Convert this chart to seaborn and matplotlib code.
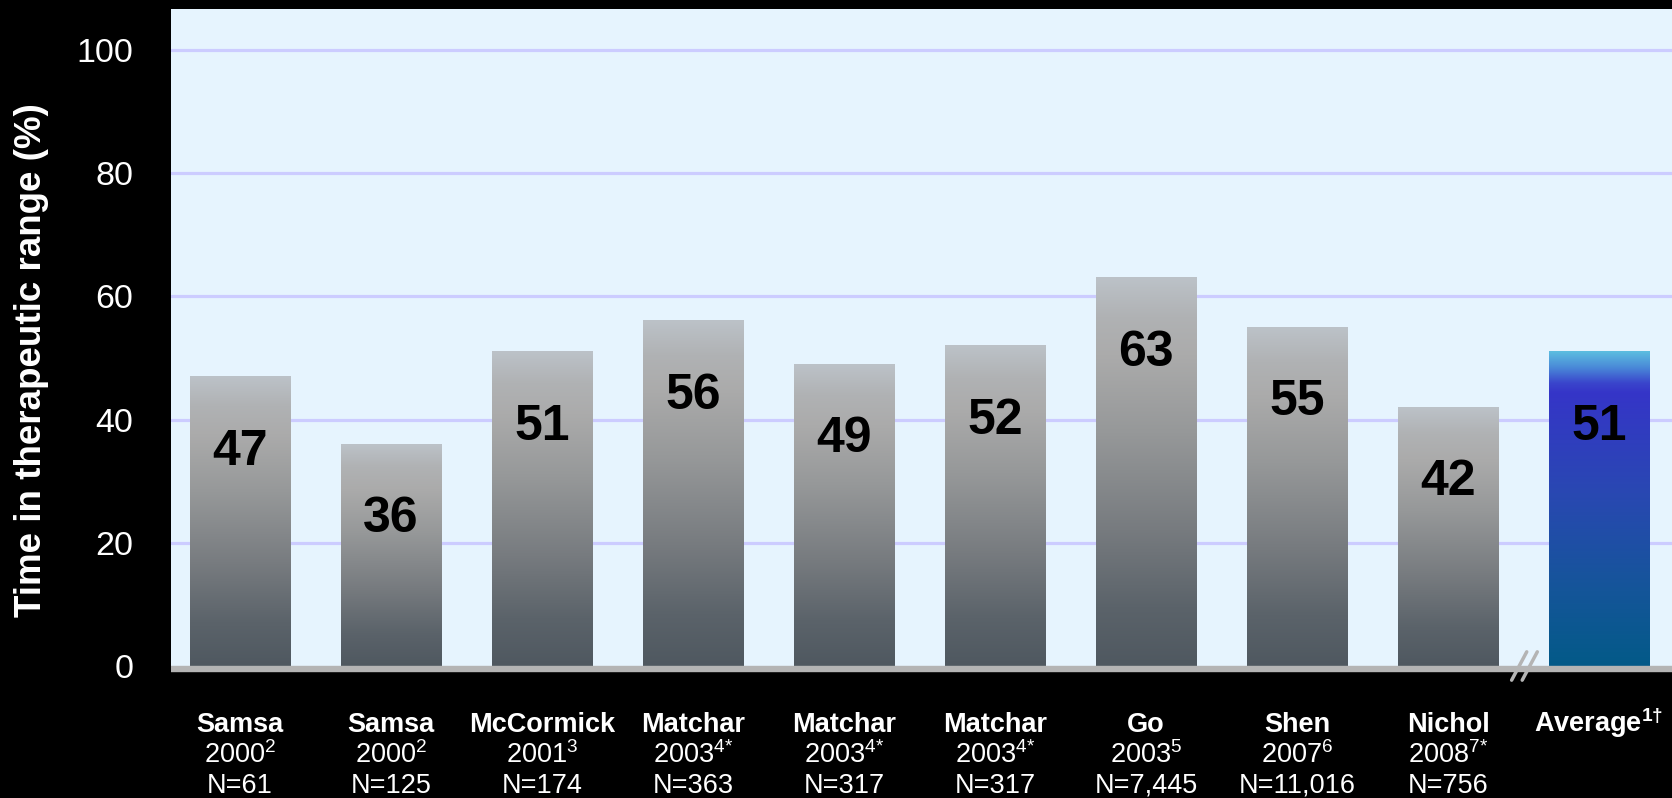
import numpy as np
import pandas as pd
import matplotlib
matplotlib.use("Agg")
import matplotlib.pyplot as plt
from matplotlib.colors import LinearSegmentedColormap
from matplotlib.lines import Line2D
from matplotlib.transforms import ScaledTranslation, blended_transform_factory
import seaborn as sns

# ---------------- data ----------------
names = ["Samsa", "Samsa", "McCormick", "Matchar", "Matchar", "Matchar",
         "Go", "Shen", "Nichol", "Average"]
years = ["2000", "2000", "2001", "2003", "2003", "2003", "2003", "2007", "2008", ""]
refs = ["2", "2", "3", "4{*}", "4{*}", "4{*}", "5", "6", "7{*}", "1†"]
sizes = ["N=61", "N=125", "N=174", "N=363", "N=317", "N=317",
         "N=7,445", "N=11,016", "N=756", ""]
ttr = [47, 36, 51, 56, 49, 52, 63, 55, 42, 51]
yticks = [0, 20, 40, 60, 80, 100]
ylabel = "Time in therapeutic range (%)"

# ---------------- style ----------------
sns.set_theme(style="white")
plt.rcParams["font.family"] = ["Liberation Sans", "DejaVu Sans"]
plt.rcParams["mathtext.fontset"] = "custom"
plt.rcParams["mathtext.rm"] = "Liberation Sans"
plt.rcParams["mathtext.it"] = "Liberation Sans:italic"
plt.rcParams["mathtext.bf"] = "Liberation Sans:bold"

W, H = 1672, 798
fig = plt.figure(figsize=(W / 100, H / 100), dpi=100, facecolor="black")
ax = fig.add_axes([171 / W, (H - 666) / H, 1501 / W, 657.5 / H])
ax.set_facecolor("#e6f4fe")

df = pd.DataFrame({"pos": list(range(len(ttr))), "ttr": ttr})
sns.barplot(data=df, x="pos", y="ttr", width=0.663, color="#999999",
            saturation=1, ax=ax, zorder=2)

grey_cmap = LinearSegmentedColormap.from_list(
    "greybar",
    [(0.0, "#4f5860"), (0.15, "#5b636a"), (0.35, "#777b7f"),
     (0.6, "#969899"), (0.8, "#ababab"), (0.9, "#b0b2b4"), (1.0, "#bcc2c8")])
blue_cmap = LinearSegmentedColormap.from_list(
    "bluebar",
    [(0.0, "#035a88"), (0.25, "#15559a"), (0.55, "#2948b2"),
     (0.87, "#3535c8"), (0.9, "#3a45cc"), (0.95, "#4a8ad8"), (1.0, "#5cbde0")])

grad = np.linspace(0, 1, 256).reshape(-1, 1)
patches = list(ax.patches)
for i, p in enumerate(patches):
    x0, y0 = p.get_x(), p.get_y()
    w, h = p.get_width(), p.get_height()
    cmap = blue_cmap if i == len(patches) - 1 else grey_cmap
    ax.imshow(grad, extent=[x0, x0 + w, y0, y0 + h], origin="lower",
              aspect="auto", cmap=cmap, zorder=2.1, interpolation="bicubic")
    p.set_facecolor("none")
    p.set_edgecolor("none")
    ax.text(x0 + w / 2, h - 12.2, f"{ttr[i]}", ha="center", va="center",
            fontsize=36, fontweight="bold", color="black", zorder=3)

ax.set_xlim(-0.457, len(ttr) - 1 + 0.483)
ax.set_ylim(0, 106.7)

# grid
for t in yticks[1:]:
    ax.axhline(t, color="#ccccff", lw=2.3, zorder=1)

ax.set_yticks(yticks)
ax.set_yticklabels([str(t) for t in yticks], color="white", fontsize=24.5)
ax.tick_params(axis="y", length=0, pad=27)
ax.set_xticks([])
ax.set_xlabel("")
ax.set_ylabel(ylabel, color="white", fontsize=26.5, fontweight="bold")
ax.yaxis.set_label_coords(-0.0813, 0.465)
for s in ax.spines.values():
    s.set_visible(False)

# baseline (grey band just below the plot area)
off = ScaledTranslation(0, -3 / 100, fig.dpi_scale_trans)
base = Line2D([0, 1], [0, 0], transform=ax.get_yaxis_transform() + off,
              color="#b4b4b4", lw=4.6, solid_capstyle="butt", clip_on=False, zorder=4)
ax.add_line(base)

# axis break marks between last study and the average
xb = (len(ttr) - 2 + len(ttr) - 1) / 2
for dx in (-0.034, 0.036):
    ax.add_line(Line2D([xb + dx - 0.045, xb + dx + 0.055], [-2.3, 2.3],
                       color="#b4b4b4", lw=2.5, clip_on=False, zorder=5))

# category labels
trans = blended_transform_factory(ax.transData, ax.transAxes)
fs = 19.5
for i in range(len(names)):
    name = names[i]
    if years[i] == "":
        txt = name + r"$^{\mathbf{" + refs[i] + "}}$"
    else:
        txt = name
    ax.text(i, (666 - 732) / 657.5, txt, transform=trans, ha="center",
            va="baseline", fontsize=fs, fontweight="bold", color="white")
    if years[i]:
        ax.text(i, (666 - 763) / 657.5, years[i] + "$^{" + refs[i] + "}$",
                transform=trans, ha="center", va="baseline", fontsize=fs,
                color="white")
    if sizes[i]:
        ax.text(i, (666 - 793) / 657.5, sizes[i], transform=trans, ha="center",
                va="baseline", fontsize=fs, color="white")

fig.savefig("out.png", dpi=100, facecolor="black")
